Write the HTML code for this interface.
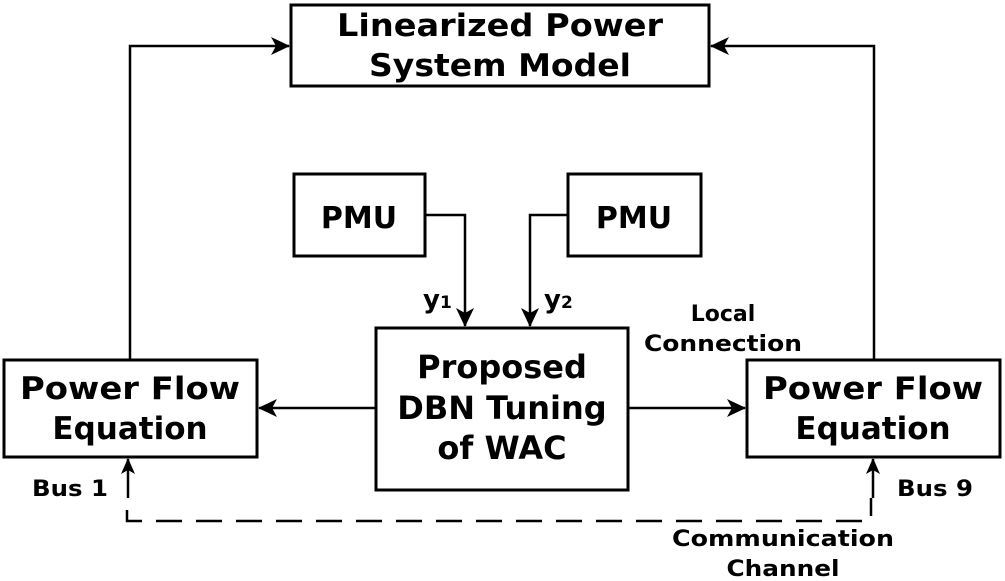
<!DOCTYPE html>
<html><head><meta charset="utf-8"><style>
html,body{margin:0;padding:0;background:#fff;}
svg{display:block;}
text{font-family:"DejaVu Sans","Liberation Sans",sans-serif;font-weight:bold;fill:#000;}
</style></head><body>
<svg width="1005" height="581" viewBox="0 0 1005 581" xmlns="http://www.w3.org/2000/svg">
<defs>
<marker id="b" markerWidth="20" markerHeight="20" refX="18" refY="10" orient="auto" markerUnits="userSpaceOnUse" viewBox="0 0 20 20">
<path d="M0,1 L19,10 L0,19 L5,10 Z" fill="#000"/>
</marker>
<marker id="c" markerWidth="16" markerHeight="16" refX="15" refY="8" orient="auto" markerUnits="userSpaceOnUse" viewBox="0 0 16 16">
<path d="M0,1 L16,8 L0,15 L4,8 Z" fill="#000"/>
</marker>
</defs>
<g fill="none" stroke="#000" stroke-width="3">
<rect x="291" y="5" width="418" height="81"/>
<rect x="294" y="174" width="131" height="82"/>
<rect x="568" y="174" width="133" height="82"/>
<rect x="376" y="328" width="252" height="162"/>
<rect x="4" y="360" width="253" height="97"/>
<rect x="747" y="360" width="253" height="97"/>
</g>
<g fill="none" stroke="#000" stroke-width="2.5">
<polyline points="130,360 130,46 289,46" marker-end="url(#b)"/>
<polyline points="874,360 874,46 711,46" marker-end="url(#b)"/>
<polyline points="425,215 465,215 465,326" marker-end="url(#b)"/>
<polyline points="568,215 530,215 530,326" marker-end="url(#b)"/>
<line x1="376" y1="408" x2="259" y2="408" marker-end="url(#b)"/>
<line x1="628" y1="408" x2="745" y2="408" marker-end="url(#b)"/>
<line x1="128" y1="498" x2="128" y2="459" marker-end="url(#c)"/>
<line x1="873" y1="498" x2="873" y2="459" marker-end="url(#c)"/>
<polyline points="127,510 127,521 871,521 871,498" stroke-dasharray="26,14"/>
</g>
<text x="500" y="36" font-size="31" text-anchor="middle" textLength="326" lengthAdjust="spacingAndGlyphs">Linearized Power</text>
<text x="500" y="76" font-size="31" text-anchor="middle" textLength="262" lengthAdjust="spacingAndGlyphs">System Model</text>
<text x="359" y="228" font-size="30" text-anchor="middle">PMU</text>
<text x="634" y="228" font-size="30" text-anchor="middle">PMU</text>
<text x="423" y="308" font-size="26">y<tspan font-size="17">1</tspan></text>
<text x="544" y="308" font-size="26">y<tspan font-size="17">2</tspan></text>
<text x="502" y="378" font-size="32" text-anchor="middle">Proposed</text>
<text x="502" y="419" font-size="32" text-anchor="middle">DBN Tuning</text>
<text x="502" y="459" font-size="32" text-anchor="middle">of WAC</text>
<text x="130" y="399" font-size="31" text-anchor="middle" textLength="220" lengthAdjust="spacingAndGlyphs">Power Flow</text>
<text x="130" y="439" font-size="31" text-anchor="middle">Equation</text>
<text x="873" y="399" font-size="31" text-anchor="middle" textLength="220" lengthAdjust="spacingAndGlyphs">Power Flow</text>
<text x="873" y="439" font-size="31" text-anchor="middle">Equation</text>
<text x="723" y="321" font-size="22" text-anchor="middle">Local</text>
<text x="723" y="351" font-size="22" text-anchor="middle" textLength="158" lengthAdjust="spacingAndGlyphs">Connection</text>
<text x="70" y="496" font-size="22" text-anchor="middle" textLength="76" lengthAdjust="spacingAndGlyphs">Bus 1</text>
<text x="935" y="496" font-size="22" text-anchor="middle" textLength="76" lengthAdjust="spacingAndGlyphs">Bus 9</text>
<text x="783" y="546" font-size="22" text-anchor="middle" textLength="222" lengthAdjust="spacingAndGlyphs">Communication</text>
<text x="783" y="576" font-size="22" text-anchor="middle" textLength="113" lengthAdjust="spacingAndGlyphs">Channel</text>
</svg>
</body></html>
